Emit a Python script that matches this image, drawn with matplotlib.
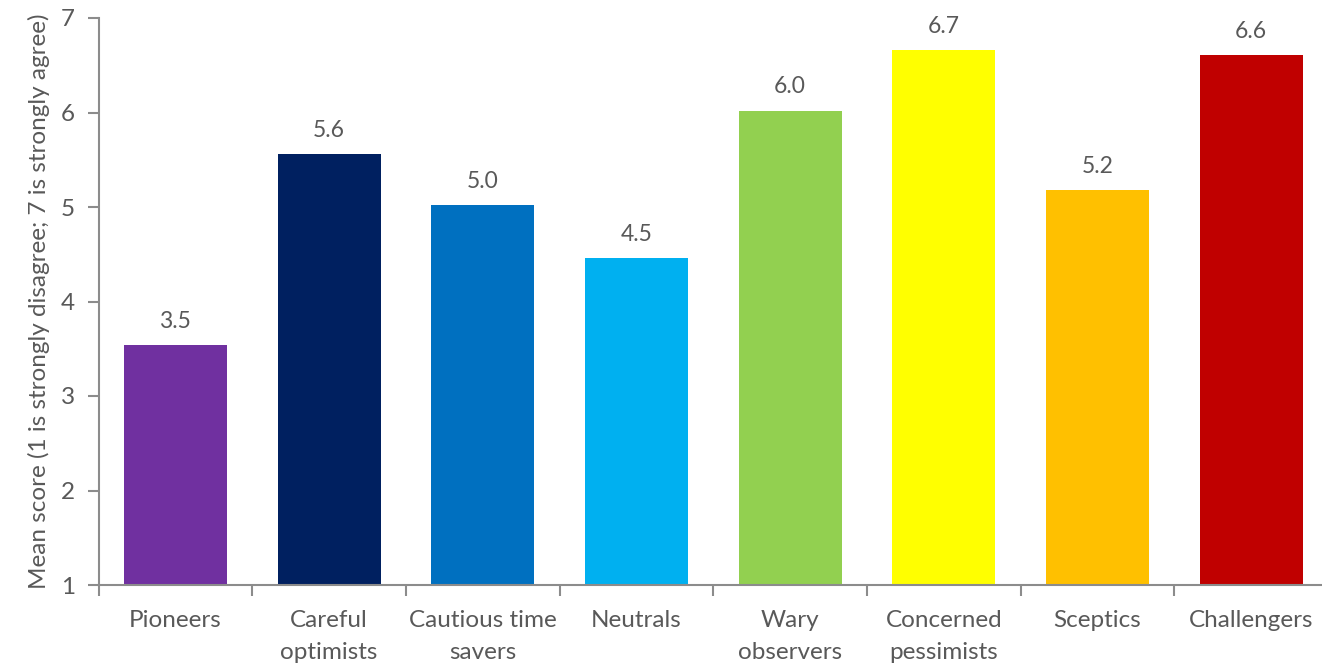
import matplotlib
matplotlib.use("Agg")
import matplotlib.pyplot as plt
import numpy as np

categories = ["Pioneers", "Careful\noptimists", "Cautious time\nsavers", "Neutrals",
              "Wary\nobservers", "Concerned\npessimists", "Sceptics", "Challengers"]
scores = [3.54, 5.56, 5.02, 4.46, 6.02, 6.66, 5.18, 6.61]
colors = ["#7030A0", "#002060", "#0070C0", "#00B0F0",
          "#92D050", "#FFFF00", "#FFC000", "#C00000"]
y_ticks = [1, 2, 3, 4, 5, 6, 7]

plt.rcParams['font.family'] = ['Lato', 'DejaVu Sans']
text_color = "#595959"
axis_color = "#8C8C8C"

W, H = 1322, 665
fig = plt.figure(figsize=(W / 100, H / 100), dpi=100)
left, right, top, bottom = 98.5, 1328, 18, 585
ax = fig.add_axes([left / W, 1 - bottom / H, (right - left) / W, (bottom - top) / H])

x = np.arange(len(categories))
base = 1
heights = [s - base for s in scores]
ax.bar(x, heights, bottom=base, width=0.67, color=colors, zorder=2)

for xi, s in zip(x, scores):
    ax.text(xi, s + 0.14, f"{s:.1f}", ha="center", va="bottom",
            fontsize=16.5, color=text_color)

ax.set_xlim(-0.5, len(categories) - 0.5)
ax.set_ylim(1, 7)
ax.set_yticks(y_ticks)
ax.set_yticklabels([str(t) for t in y_ticks])

# category labels centered, ticks at boundaries
ax.set_xticks(x)
ax.set_xticklabels(categories, fontsize=17.5, color=text_color, linespacing=1.65, va="top")
ax.tick_params(axis="x", which="major", length=0, pad=18)
ax.set_xticks(np.arange(len(categories) + 1) - 0.5, minor=True)
ax.tick_params(axis="x", which="minor", length=8, width=1.5, color=axis_color, direction="out")
ax.tick_params(axis="y", length=8, width=1.5, color=axis_color, labelsize=17.5,
               labelcolor=text_color, pad=9)

for side in ("top", "right"):
    ax.spines[side].set_visible(False)
for side in ("left", "bottom"):
    ax.spines[side].set_color(axis_color)
    ax.spines[side].set_linewidth(1.5)

ax.set_ylabel("Mean score (1 is strongly disagree; 7 is strongly agree)",
              fontsize=17.5, color=text_color, labelpad=8)

fig.savefig("out.png", dpi=100)
